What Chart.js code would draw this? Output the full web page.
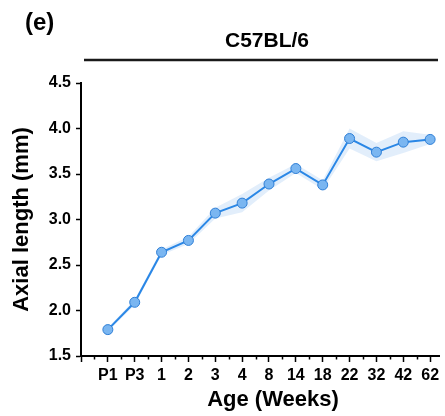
<!DOCTYPE html>
<html>
<head>
<meta charset="utf-8">
<script src="https://cdn.jsdelivr.net/npm/chart.js@4"></script>
<style>
  html, body { margin: 0; padding: 0; background: #fff; }
  #wrap { width: 445px; height: 416px; }
</style>
</head>
<body>
<div id="wrap"><canvas id="chart" width="445" height="416"></canvas></div>
<script>
'use strict'

// ages on the x axis (categories), placed at positions 1..13
const ages = ["P1", "P3", "1", "2", "3", "4", "8", "14", "18", "22", "32", "42", "62"]
// mean axial length (mm)
const axialLength = [1.79, 2.09, 2.64, 2.77, 3.07, 3.18, 3.39, 3.56, 3.38, 3.89, 3.74, 3.85, 3.88]
// spread of the shaded band (mm)
const axialSpread = [0.02, 0.03, 0.03, 0.04, 0.06, 0.10, 0.07, 0.05, 0.05, 0.11, 0.10, 0.12, 0.05]
// y tick values
const yTicks = [1.5, 2.0, 2.5, 3.0, 3.5, 4.0, 4.5]

const strainLabel = "C57BL/6"
const panelLabel = "(e)"
const xTitle = "Age (Weeks)"
const xMax = 13.33  // axis runs a little past the last age, cut at the edge

const fontFamily = "'Liberation Sans', Arial, sans-serif"
Chart.defaults.font.family = fontFamily
Chart.defaults.color = '#000'

const meanPoints = axialLength.map((v, i) => ({x: i + 1, y: v}))
const upperPoints = axialLength.map((v, i) => ({x: i + 1, y: v + axialSpread[i]}))
const lowerPoints = axialLength.map((v, i) => ({x: i + 1, y: v - axialSpread[i]}))

// major ticks at every age, minor half way between
const xTickValues = []
for (let i = 0; i <= ages.length * 2; i++) xTickValues.push(i / 2)
xTickValues.push(xMax)

// panel letter, strain title and the line under it, x title, minor x ticks
const decorPlugin = {
    id: 'decor',
    afterDraw: function(chart) {
        const {ctx, chartArea} = chart
        ctx.save()
        ctx.fillStyle = '#000'
        ctx.textBaseline = 'middle'

        ctx.font = `bold 24px ${fontFamily}`
        ctx.textAlign = 'left'
        ctx.fillText(panelLabel, 25, 23)

        ctx.font = `bold 21px ${fontFamily}`
        ctx.textAlign = 'center'
        ctx.fillText(strainLabel, 267, 41)

        // the x title sits a bit right of the visible axis centre (figure was cropped)
        ctx.font = `bold 22px ${fontFamily}`
        ctx.fillText(xTitle, 273, 400)

        ctx.strokeStyle = '#1a1a1a'
        ctx.lineWidth = 2.5
        ctx.beginPath()
        ctx.moveTo(84, 60)
        ctx.lineTo(438, 60)
        ctx.stroke()

        // short ticks between the categories
        const xs = chart.scales.x
        ctx.strokeStyle = '#000'
        ctx.lineWidth = 1.5
        xs.ticks.forEach(t => {
            if (Number.isInteger(t.value) || !Number.isInteger(t.value * 2)) return
            const px = Math.round(xs.getPixelForValue(t.value)) + 0.5
            ctx.beginPath()
            ctx.moveTo(px, chartArea.bottom)
            ctx.lineTo(px, chartArea.bottom + 3.5)
            ctx.stroke()
        })
        ctx.restore()
    }
}

new Chart(document.getElementById('chart'), {
    type: 'line',
    data: {
        datasets: [
            {
                label: 'Axial length',
                data: meanPoints,
                borderColor: '#2a87e6',
                borderWidth: 2,
                tension: 0,
                pointRadius: 5,
                pointBackgroundColor: '#7ab6f1',
                pointBorderColor: '#2f7fd6',
                pointBorderWidth: 1,
                fill: false
            },
            {
                label: 'upper',
                data: upperPoints,
                borderWidth: 0,
                pointRadius: 0,
                tension: 0,
                fill: '+1',
                backgroundColor: 'rgba(110, 170, 235, 0.2)'
            },
            {
                label: 'lower',
                data: lowerPoints,
                borderWidth: 0,
                pointRadius: 0,
                tension: 0,
                fill: false
            }
        ]
    },
    options: {
        responsive: false,
        animation: false,
        layout: {
            padding: {top: 83, right: 0, bottom: 0, left: 0}
        },
        plugins: {
            legend: {display: false},
            tooltip: {enabled: false}
        },
        scales: {
            x: {
                type: 'linear',
                min: 0,
                max: xMax,
                afterFit: s => { s.height = 60 },
                afterBuildTicks: s => { s.ticks = xTickValues.map(v => ({value: v})) },
                border: {color: '#000', width: 2},
                grid: {
                    drawOnChartArea: false,
                    tickLength: 6,
                    tickWidth: 1.5,
                    tickColor: c => Number.isInteger(c.tick.value) ? '#000' : 'rgba(0,0,0,0)'
                },
                ticks: {
                    autoSkip: false,
                    maxRotation: 0,
                    padding: 4,
                    font: {size: 16, weight: 'bold'},
                    callback: v => (Number.isInteger(v) && v >= 1 && v <= ages.length) ? ages[v - 1] : ''
                },
                title: {display: false}
            },
            y: {
                min: yTicks[0],
                max: yTicks[yTicks.length - 1],
                afterFit: s => { s.width = 81 },
                afterBuildTicks: s => { s.ticks = yTicks.map(v => ({value: v})) },
                border: {color: '#000', width: 2},
                grid: {
                    drawOnChartArea: false,
                    tickLength: 5,
                    tickWidth: 1.5,
                    tickColor: '#000'
                },
                ticks: {
                    padding: 5,
                    font: {size: 16, weight: 'bold'},
                    callback: v => Number(v).toFixed(1)
                },
                title: {
                    display: true,
                    text: 'Axial length (mm)',
                    font: {size: 22, weight: 'bold'},
                    padding: {top: 9, bottom: 0}
                }
            }
        }
    },
    plugins: [decorPlugin]
})
</script>
</body>
</html>
